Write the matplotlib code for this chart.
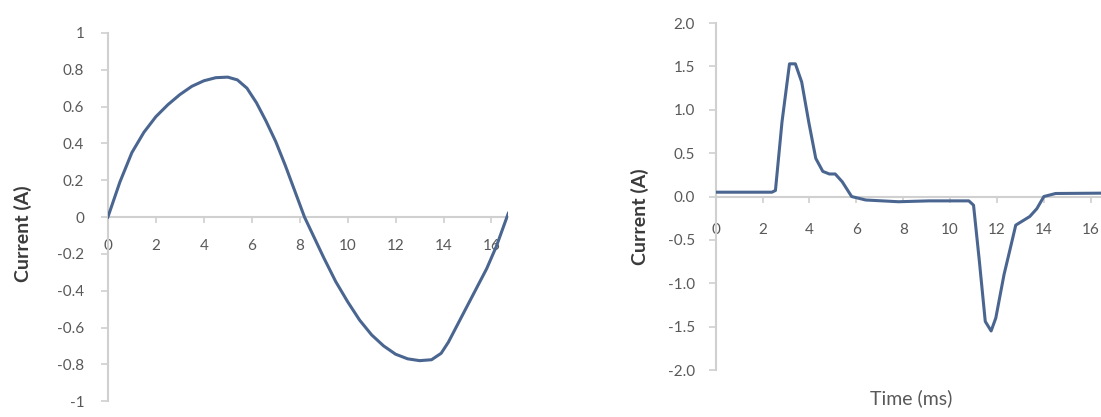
import matplotlib
matplotlib.use("Agg")
import matplotlib.pyplot as plt

# left panel: sine-like current over one 60 Hz cycle
t_left = [0, 0.5, 1.0, 1.5, 2.0, 2.5, 3.0, 3.5, 4.0, 4.5, 5.0, 5.4, 5.8, 6.2,
          6.6, 7.0, 7.4, 7.8, 8.2, 8.6, 9.0, 9.5, 10.0, 10.5, 11.0, 11.5,
          12.0, 12.5, 13.0, 13.5, 13.9, 14.2, 14.6, 15.0, 15.4, 15.8, 16.2,
          16.7]
i_left = [0, 0.19, 0.35, 0.46, 0.545, 0.61, 0.665, 0.71, 0.74, 0.757, 0.76,
          0.745, 0.70, 0.62, 0.52, 0.41, 0.28, 0.14, 0.0, -0.11, -0.22, -0.35,
          -0.46, -0.56, -0.64, -0.70, -0.745, -0.77, -0.78, -0.775, -0.74,
          -0.68, -0.58, -0.48, -0.38, -0.28, -0.16, 0.02]
left_xticks = [0, 2, 4, 6, 8, 10, 12, 14, 16]
left_yticks = [-1, -0.8, -0.6, -0.4, -0.2, 0, 0.2, 0.4, 0.6, 0.8, 1]
left_yticklabels = ["-1", "-0.8", "-0.6", "-0.4", "-0.2", "0", "0.2", "0.4",
                    "0.6", "0.8", "1"]

# right panel: pulsed current
t_right = [0, 2.4, 2.55, 2.83, 3.15, 3.4, 3.67, 3.97, 4.27, 4.57, 4.85, 5.1,
           5.4, 5.8, 6.4, 7.8, 9.1, 10.8, 11.0, 11.25, 11.5, 11.75, 11.95,
           12.3, 12.6, 12.8, 13.1, 13.4, 13.7, 14.0, 14.5, 17]
i_right = [0.05, 0.05, 0.07, 0.86, 1.53, 1.53, 1.32, 0.86, 0.44, 0.29, 0.26,
           0.26, 0.17, 0.0, -0.04, -0.06, -0.05, -0.05, -0.1, -0.75, -1.44,
           -1.55, -1.40, -0.9, -0.56, -0.33, -0.28, -0.23, -0.14, 0.0, 0.035,
           0.04]
right_xticks = [0, 2, 4, 6, 8, 10, 12, 14, 16]
right_yticks = [-2.0, -1.5, -1.0, -0.5, 0.0, 0.5, 1.0, 1.5, 2.0]

line_col = "#4a6690"
axis_col = "#d0d0d0"
text_col = "#595959"
plt.rcParams["font.family"] = ["Lato", "DejaVu Sans"]

fig = plt.figure(figsize=(11.01, 4.17), dpi=100)


def style(ax, xpad, ypad):
    for s in ["top", "right"]:
        ax.spines[s].set_visible(False)
    ax.spines["bottom"].set_position(("data", 0))
    ax.spines["bottom"].set_color(axis_col)
    ax.spines["left"].set_color(axis_col)
    ax.spines["bottom"].set_linewidth(1.5)
    ax.spines["left"].set_linewidth(1.5)
    ax.tick_params(axis="x", direction="out", length=4, width=1.2,
                   color=axis_col, labelcolor=text_col, labelsize=11, pad=xpad)
    ax.tick_params(axis="y", direction="out", length=5, width=1.2,
                   color=axis_col, labelcolor=text_col, labelsize=11, pad=ypad)


# left chart
ax1 = fig.add_axes([0.098, 0.038, 0.363, 0.883])
ax1.plot(t_left, i_left, color=line_col, lw=2.2, zorder=3)
ax1.set_xlim(0, 16.67)
ax1.set_ylim(-1, 1)
ax1.set_xticks(left_xticks)
ax1.set_yticks(left_yticks)
ax1.set_yticklabels(left_yticklabels)
style(ax1, 12, 12)
fig.text(0.021, 0.44, "Current (A)", rotation=90, ha="center", va="center",
         fontsize=14, fontweight="bold", color="#3a3a3a")

# right chart
ax2 = fig.add_axes([0.650, 0.1127, 0.362, 0.832])
ax2.plot(t_right, i_right, color=line_col, lw=2.2, zorder=3)
ax2.set_xlim(0, 17)
ax2.set_ylim(-2, 2)
ax2.set_xticks(right_xticks)
ax2.set_yticks(right_yticks)
ax2.set_yticklabels([f"{v:.1f}" for v in right_yticks])
style(ax2, 15, 10)
fig.text(0.581, 0.48, "Current (A)", rotation=90, ha="center", va="center",
         fontsize=14, fontweight="bold", color="#3a3a3a")
fig.text(0.828, 0.045, "Time (ms)", ha="center", va="center",
         fontsize=14, color=text_col)

fig.savefig("out.png", dpi=100, facecolor="white")
